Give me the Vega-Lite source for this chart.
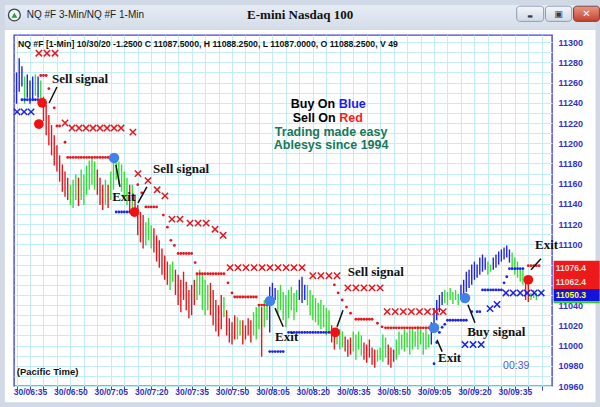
{
"$schema": "https://vega.github.io/schema/vega-lite/v6.json",
"width": 538, "height": 351,
"autosize": {"type": "none"},
"padding": {"left": 14, "top": 35, "right": 48, "bottom": 21},
"background": "#ffffff",
"data": {"values": [{}]},
"config": {
  "view": {"stroke": "#4646d6", "strokeWidth": 1.4, "fill": "#ffffff"},
  "axis": {"gridColor": "#c4eef7", "gridWidth": 1, "domain": false, "labelFont": "Liberation Sans", "labelFontWeight": "bold", "labelColor": "#3232c8", "tickColor": "#4646d6", "labelFlush": false, "labelOverlap": false}
},
"datasets": {
"bars": [
{"t":390,"c":"B","lo":11239,"hi":11270},{"t":391,"c":"B","lo":11251,"hi":11284},{"t":392,"c":"B","lo":11256,"hi":11276},{"t":393,"c":"G","lo":11239,"hi":11266},{"t":394,"c":"B","lo":11245,"hi":11268},{"t":395,"c":"B","lo":11239,"hi":11262},{"t":396,"c":"B","lo":11243,"hi":11266},{"t":397,"c":"G","lo":11247,"hi":11268},{"t":398,"c":"B","lo":11245,"hi":11266},{"t":399,"c":"G","lo":11243,"hi":11262},
{"t":400,"c":"R","lo":11222,"hi":11246},{"t":401,"c":"R","lo":11208,"hi":11238},{"t":402,"c":"R","lo":11198,"hi":11228},{"t":403,"c":"R","lo":11188,"hi":11218},{"t":404,"c":"R","lo":11178,"hi":11208},{"t":405,"c":"R","lo":11172,"hi":11198},{"t":406,"c":"R","lo":11162,"hi":11188},{"t":407,"c":"R","lo":11152,"hi":11179},{"t":408,"c":"R","lo":11147,"hi":11172},{"t":409,"c":"R","lo":11144,"hi":11166},
{"t":410,"c":"G","lo":11139,"hi":11159},{"t":411,"c":"G","lo":11136,"hi":11164},{"t":412,"c":"G","lo":11144,"hi":11169},{"t":413,"c":"R","lo":11138,"hi":11166},{"t":414,"c":"G","lo":11144,"hi":11174},{"t":415,"c":"G","lo":11139,"hi":11169},{"t":416,"c":"G","lo":11149,"hi":11178},{"t":417,"c":"G","lo":11154,"hi":11183},{"t":418,"c":"G","lo":11159,"hi":11186},{"t":419,"c":"G","lo":11154,"hi":11182},
{"t":420,"c":"R","lo":11149,"hi":11174},{"t":421,"c":"R","lo":11139,"hi":11166},{"t":422,"c":"R","lo":11134,"hi":11159},{"t":423,"c":"G","lo":11139,"hi":11164},{"t":424,"c":"R","lo":11136,"hi":11159},{"t":425,"c":"G","lo":11144,"hi":11172},{"t":426,"c":"G","lo":11154,"hi":11183},{"t":427,"c":"G","lo":11164,"hi":11188},{"t":428,"c":"G","lo":11159,"hi":11182},{"t":429,"c":"G","lo":11152,"hi":11179},
{"t":430,"c":"G","lo":11146,"hi":11172},{"t":431,"c":"G","lo":11139,"hi":11166},{"t":432,"c":"R","lo":11132,"hi":11159},{"t":433,"c":"G","lo":11136,"hi":11159},{"t":434,"c":"R","lo":11129,"hi":11149},{"t":435,"c":"R","lo":11109,"hi":11139},{"t":436,"c":"R","lo":11102,"hi":11132},{"t":437,"c":"R","lo":11096,"hi":11129},{"t":438,"c":"G","lo":11099,"hi":11122},{"t":439,"c":"G","lo":11104,"hi":11126},
{"t":440,"c":"G","lo":11096,"hi":11119},{"t":441,"c":"R","lo":11092,"hi":11116},{"t":442,"c":"R","lo":11083,"hi":11109},{"t":443,"c":"R","lo":11077,"hi":11104},{"t":444,"c":"R","lo":11070,"hi":11096},{"t":445,"c":"R","lo":11065,"hi":11089},{"t":446,"c":"R","lo":11060,"hi":11083},{"t":447,"c":"G","lo":11055,"hi":11080},{"t":448,"c":"G","lo":11063,"hi":11083},{"t":449,"c":"R","lo":11050,"hi":11075},
{"t":450,"c":"R","lo":11040,"hi":11070},{"t":451,"c":"R","lo":11033,"hi":11065},{"t":452,"c":"R","lo":11045,"hi":11073},{"t":453,"c":"R","lo":11035,"hi":11063},{"t":454,"c":"R","lo":11027,"hi":11055},{"t":455,"c":"R","lo":11030,"hi":11060},{"t":456,"c":"R","lo":11040,"hi":11065},{"t":457,"c":"G","lo":11045,"hi":11070},{"t":458,"c":"G","lo":11050,"hi":11075},{"t":459,"c":"G","lo":11035,"hi":11070},
{"t":460,"c":"G","lo":11030,"hi":11065},{"t":461,"c":"G","lo":11035,"hi":11060},{"t":462,"c":"R","lo":11030,"hi":11062},{"t":463,"c":"R","lo":11020,"hi":11055},{"t":464,"c":"R","lo":11014,"hi":11045},{"t":465,"c":"R","lo":11009,"hi":11040},{"t":466,"c":"R","lo":11016,"hi":11050},{"t":467,"c":"G","lo":11028,"hi":11048},{"t":468,"c":"R","lo":11010,"hi":11035},{"t":469,"c":"R","lo":11003,"hi":11027},
{"t":470,"c":"R","lo":11001,"hi":11023},{"t":471,"c":"R","lo":11006,"hi":11030},{"t":472,"c":"G","lo":11006,"hi":11028},{"t":473,"c":"G","lo":11010,"hi":11025},{"t":474,"c":"R","lo":11001,"hi":11025},{"t":475,"c":"R","lo":11006,"hi":11020},{"t":476,"c":"R","lo":11010,"hi":11027},{"t":477,"c":"R","lo":11003,"hi":11025},{"t":478,"c":"G","lo":11010,"hi":11033},{"t":479,"c":"G","lo":11006,"hi":11038},
{"t":480,"c":"G","lo":11016,"hi":11040},{"t":481,"c":"R","lo":10989,"hi":11038},{"t":482,"c":"G","lo":11018,"hi":11045},{"t":483,"c":"G","lo":11025,"hi":11048},{"t":484,"c":"B","lo":11013,"hi":11058},{"t":485,"c":"B","lo":11042,"hi":11062},{"t":486,"c":"B","lo":11045,"hi":11057},{"t":487,"c":"G","lo":11030,"hi":11055},{"t":488,"c":"G","lo":11035,"hi":11060},{"t":489,"c":"G","lo":11025,"hi":11053},
{"t":490,"c":"G","lo":11018,"hi":11050},{"t":491,"c":"G","lo":11027,"hi":11055},{"t":492,"c":"G","lo":11035,"hi":11058},{"t":493,"c":"G","lo":11025,"hi":11052},{"t":494,"c":"G","lo":11033,"hi":11055},{"t":495,"c":"B","lo":11045,"hi":11065},{"t":496,"c":"B","lo":11042,"hi":11068},{"t":497,"c":"B","lo":11045,"hi":11060},{"t":498,"c":"G","lo":11040,"hi":11060},{"t":499,"c":"G","lo":11030,"hi":11055},
{"t":500,"c":"G","lo":11025,"hi":11050},{"t":501,"c":"G","lo":11023,"hi":11047},{"t":502,"c":"G","lo":11020,"hi":11042},{"t":503,"c":"G","lo":11016,"hi":11045},{"t":504,"c":"G","lo":11018,"hi":11040},{"t":505,"c":"G","lo":11010,"hi":11037},{"t":506,"c":"G","lo":11013,"hi":11035},{"t":507,"c":"R","lo":11003,"hi":11020},{"t":508,"c":"R","lo":10996,"hi":11013},{"t":509,"c":"G","lo":11001,"hi":11018},
{"t":510,"c":"G","lo":10996,"hi":11016},{"t":511,"c":"G","lo":10998,"hi":11014},{"t":512,"c":"R","lo":10994,"hi":11009},{"t":513,"c":"R","lo":10989,"hi":11006},{"t":514,"c":"R","lo":10991,"hi":11008},{"t":515,"c":"G","lo":10994,"hi":11014},{"t":516,"c":"G","lo":10986,"hi":11011},{"t":517,"c":"G","lo":10996,"hi":11014},{"t":518,"c":"G","lo":10990,"hi":11010},{"t":519,"c":"R","lo":10986,"hi":11003},
{"t":520,"c":"R","lo":10983,"hi":11001},{"t":521,"c":"R","lo":10988,"hi":11006},{"t":522,"c":"R","lo":10981,"hi":10998},{"t":523,"c":"R","lo":10978,"hi":10996},{"t":524,"c":"G","lo":10984,"hi":10996},{"t":525,"c":"G","lo":10986,"hi":10998},{"t":526,"c":"G","lo":10984,"hi":11011},{"t":527,"c":"G","lo":10988,"hi":11008},{"t":528,"c":"R","lo":10981,"hi":11001},{"t":529,"c":"R","lo":10978,"hi":10998},
{"t":530,"c":"R","lo":10984,"hi":10996},{"t":531,"c":"G","lo":10986,"hi":11006},{"t":532,"c":"G","lo":10991,"hi":11014},{"t":533,"c":"G","lo":10996,"hi":11011},{"t":534,"c":"G","lo":10994,"hi":11016},{"t":535,"c":"G","lo":10998,"hi":11013},{"t":536,"c":"G","lo":10991,"hi":11016},{"t":537,"c":"G","lo":10996,"hi":11018},{"t":538,"c":"G","lo":10999,"hi":11014},{"t":539,"c":"G","lo":10996,"hi":11019},
{"t":540,"c":"G","lo":11001,"hi":11016},{"t":541,"c":"G","lo":10991,"hi":11013},{"t":542,"c":"G","lo":10996,"hi":11016},{"t":543,"c":"G","lo":10998,"hi":11011},{"t":544,"c":"B","lo":11001,"hi":11023},{"t":545,"c":"B","lo":11016,"hi":11037},{"t":546,"c":"B","lo":11025,"hi":11045},{"t":547,"c":"B","lo":11033,"hi":11050},{"t":548,"c":"B","lo":11040,"hi":11053},{"t":549,"c":"G","lo":11042,"hi":11055},
{"t":550,"c":"G","lo":11040,"hi":11053},{"t":551,"c":"G","lo":11045,"hi":11057},{"t":552,"c":"G","lo":11041,"hi":11053},{"t":553,"c":"G","lo":11045,"hi":11055},{"t":554,"c":"G","lo":11040,"hi":11051},{"t":555,"c":"B","lo":11045,"hi":11060},{"t":556,"c":"B","lo":11047,"hi":11065},{"t":557,"c":"B","lo":11053,"hi":11073},{"t":558,"c":"B","lo":11057,"hi":11075},{"t":559,"c":"B","lo":11060,"hi":11080},
{"t":560,"c":"B","lo":11065,"hi":11083},{"t":561,"c":"B","lo":11067,"hi":11080},{"t":562,"c":"B","lo":11070,"hi":11087},{"t":563,"c":"B","lo":11073,"hi":11090},{"t":564,"c":"B","lo":11075,"hi":11087},{"t":565,"c":"G","lo":11070,"hi":11083},{"t":566,"c":"G","lo":11073,"hi":11080},{"t":567,"c":"B","lo":11075,"hi":11087},{"t":568,"c":"B","lo":11077,"hi":11090},{"t":569,"c":"B","lo":11080,"hi":11093},
{"t":570,"c":"B","lo":11083,"hi":11095},{"t":571,"c":"B","lo":11085,"hi":11097},{"t":572,"c":"B","lo":11087,"hi":11099},{"t":573,"c":"B","lo":11082,"hi":11095},{"t":574,"c":"G","lo":11075,"hi":11092},{"t":575,"c":"G","lo":11070,"hi":11087},{"t":576,"c":"G","lo":11067,"hi":11083},{"t":577,"c":"G","lo":11063,"hi":11077},{"t":578,"c":"G","lo":11060,"hi":11075},{"t":579,"c":"R","lo":11045,"hi":11067},
{"t":580,"c":"R","lo":11043,"hi":11065},{"t":581,"c":"G","lo":11045,"hi":11052},{"t":582,"c":"G","lo":11047,"hi":11055},{"t":583,"c":"G","lo":11045,"hi":11052}
],
"dots": [
{"t":399,"p":11267,"c":"R"},{"t":400,"p":11267,"c":"R"},{"t":401,"p":11267,"c":"R"},{"t":402,"p":11254,"c":"R"},{"t":404,"p":11235,"c":"R"},{"t":405,"p":11217,"c":"R"},{"t":406,"p":11217,"c":"R"},{"t":408,"p":11201,"c":"R"},
{"t":409,"p":11186,"c":"R"},{"t":410,"p":11186,"c":"R"},{"t":411,"p":11186,"c":"R"},{"t":412,"p":11186,"c":"R"},{"t":413,"p":11186,"c":"R"},{"t":414,"p":11186,"c":"R"},{"t":415,"p":11186,"c":"R"},{"t":416,"p":11186,"c":"R"},{"t":417,"p":11186,"c":"R"},{"t":418,"p":11186,"c":"R"},{"t":419,"p":11186,"c":"R"},{"t":420,"p":11186,"c":"R"},{"t":421,"p":11186,"c":"R"},{"t":422,"p":11186,"c":"R"},{"t":423,"p":11186,"c":"R"},{"t":424,"p":11186,"c":"R"},{"t":425,"p":11186,"c":"R"},
{"t":435,"p":11159,"c":"R"},{"t":436.5,"p":11151,"c":"R"},{"t":438,"p":11137,"c":"R"},{"t":439,"p":11137,"c":"R"},{"t":440,"p":11137,"c":"R"},{"t":441,"p":11137,"c":"R"},{"t":442,"p":11137,"c":"R"},{"t":444.5,"p":11129,"c":"R"},{"t":446,"p":11117,"c":"R"},{"t":447.3,"p":11104,"c":"R"},{"t":448.6,"p":11099,"c":"R"},
{"t":450,"p":11091,"c":"R"},{"t":451,"p":11091,"c":"R"},{"t":452,"p":11091,"c":"R"},{"t":453,"p":11091,"c":"R"},{"t":454,"p":11091,"c":"R"},{"t":455,"p":11091,"c":"R"},{"t":456.3,"p":11082,"c":"R"},
{"t":457,"p":11071,"c":"R"},{"t":458,"p":11071,"c":"R"},{"t":459,"p":11071,"c":"R"},{"t":460,"p":11071,"c":"R"},{"t":461,"p":11071,"c":"R"},{"t":462,"p":11071,"c":"R"},{"t":463,"p":11071,"c":"R"},{"t":464,"p":11071,"c":"R"},{"t":465,"p":11071,"c":"R"},{"t":466,"p":11071,"c":"R"},{"t":467,"p":11071,"c":"R"},
{"t":468.5,"p":11062,"c":"R"},{"t":470,"p":11052,"c":"R"},{"t":471,"p":11048,"c":"R"},{"t":472,"p":11048,"c":"R"},{"t":473,"p":11048,"c":"R"},{"t":474,"p":11048,"c":"R"},{"t":475,"p":11048,"c":"R"},{"t":476,"p":11048,"c":"R"},{"t":477,"p":11048,"c":"R"},{"t":478,"p":11048,"c":"R"},{"t":479,"p":11048,"c":"R"},
{"t":480,"p":11040,"c":"R"},{"t":481,"p":11040,"c":"R"},{"t":482,"p":11040,"c":"R"},{"t":483,"p":11040,"c":"R"},
{"t":508,"p":11060,"c":"R"},{"t":509.4,"p":11052,"c":"R"},{"t":510.9,"p":11045,"c":"R"},{"t":512.5,"p":11038,"c":"R"},{"t":514,"p":11032,"c":"R"},
{"t":516,"p":11026,"c":"R"},{"t":517,"p":11026,"c":"R"},{"t":518,"p":11026,"c":"R"},{"t":519,"p":11026,"c":"R"},{"t":520,"p":11026,"c":"R"},{"t":521,"p":11026,"c":"R"},{"t":522,"p":11026,"c":"R"},{"t":524,"p":11022,"c":"R"},{"t":525.7,"p":11018.5,"c":"R"},
{"t":527,"p":11017.5,"c":"R"},{"t":528,"p":11017.5,"c":"R"},{"t":529,"p":11017.5,"c":"R"},{"t":530,"p":11017.5,"c":"R"},{"t":531,"p":11017.5,"c":"R"},{"t":532,"p":11017.5,"c":"R"},{"t":533,"p":11017.5,"c":"R"},{"t":534,"p":11017.5,"c":"R"},{"t":535,"p":11017.5,"c":"R"},{"t":536,"p":11017.5,"c":"R"},{"t":537,"p":11017.5,"c":"R"},{"t":538,"p":11017.5,"c":"R"},{"t":539,"p":11017.5,"c":"R"},{"t":540,"p":11017.5,"c":"R"},{"t":541,"p":11017.5,"c":"R"},{"t":542,"p":11017.5,"c":"R"},{"t":543,"p":11017.5,"c":"R"},{"t":544,"p":11017.5,"c":"R"},
{"t":580,"p":11079,"c":"R"},{"t":581,"p":11079,"c":"R"},{"t":582,"p":11079,"c":"R"},{"t":583,"p":11079,"c":"R"},{"t":584,"p":11079,"c":"R"},
{"t":392,"p":11243,"c":"B"},{"t":393,"p":11243,"c":"B"},{"t":394,"p":11243,"c":"B"},{"t":395,"p":11243,"c":"B"},{"t":396,"p":11243,"c":"B"},{"t":397,"p":11243,"c":"B"},{"t":398,"p":11243,"c":"B"},
{"t":427,"p":11132,"c":"B"},{"t":428,"p":11132,"c":"B"},{"t":429,"p":11132,"c":"B"},{"t":430,"p":11132,"c":"B"},{"t":431,"p":11132,"c":"B"},{"t":432,"p":11132,"c":"B"},{"t":433,"p":11132,"c":"B"},
{"t":484,"p":10994,"c":"B"},{"t":485,"p":10994,"c":"B"},{"t":486,"p":10994,"c":"B"},{"t":487,"p":10994,"c":"B"},{"t":488,"p":10994,"c":"B"},{"t":489,"p":10994,"c":"B"},
{"t":491,"p":11013,"c":"B"},{"t":492,"p":11013,"c":"B"},{"t":493,"p":11013,"c":"B"},{"t":494,"p":11013,"c":"B"},{"t":495,"p":11013,"c":"B"},{"t":496,"p":11013,"c":"B"},{"t":497,"p":11013,"c":"B"},{"t":498,"p":11013,"c":"B"},{"t":499,"p":11013,"c":"B"},{"t":500,"p":11013,"c":"B"},{"t":501,"p":11013,"c":"B"},{"t":502,"p":11013,"c":"B"},{"t":503,"p":11013,"c":"B"},{"t":504,"p":11013,"c":"B"},{"t":505,"p":11013,"c":"B"},{"t":506,"p":11013,"c":"B"},{"t":507,"p":11013,"c":"B"},
{"t":545,"p":10982,"c":"B"},{"t":546,"p":11003,"c":"B"},{"t":547,"p":11013,"c":"B"},{"t":548,"p":11018,"c":"B"},{"t":549,"p":11021,"c":"B"},
{"t":550,"p":11025,"c":"B"},{"t":551,"p":11025,"c":"B"},{"t":552,"p":11025,"c":"B"},{"t":553,"p":11025,"c":"B"},{"t":554,"p":11025,"c":"B"},{"t":555,"p":11025,"c":"B"},{"t":556,"p":11025,"c":"B"},{"t":557,"p":11025,"c":"B"},
{"t":559,"p":11033.5,"c":"B"},{"t":561,"p":11033.5,"c":"B"},{"t":562,"p":11033.5,"c":"B"},
{"t":563,"p":11055,"c":"B"},{"t":564,"p":11055,"c":"B"},{"t":565,"p":11055,"c":"B"},{"t":566,"p":11055,"c":"B"},{"t":567,"p":11055,"c":"B"},{"t":568,"p":11055,"c":"B"},{"t":569,"p":11055,"c":"B"},{"t":570,"p":11055,"c":"B"},
{"t":571,"p":11062,"c":"B"},{"t":572,"p":11068,"c":"B"},{"t":573,"p":11076,"c":"B"},{"t":574,"p":11076,"c":"B"},{"t":575,"p":11076,"c":"B"},{"t":576,"p":11076,"c":"B"},{"t":577,"p":11076,"c":"B"},{"t":578,"p":11076,"c":"B"}
],
"crosses": [
{"t":398.3,"p":11289,"c":"R"},{"t":401.3,"p":11289,"c":"R"},{"t":404.3,"p":11289,"c":"R"},
{"t":408,"p":11220,"c":"R"},{"t":410.6,"p":11215,"c":"R"},{"t":413.2,"p":11215,"c":"R"},{"t":415.8,"p":11215,"c":"R"},{"t":418.4,"p":11215,"c":"R"},{"t":421,"p":11215,"c":"R"},{"t":423.6,"p":11215,"c":"R"},{"t":426.2,"p":11215,"c":"R"},{"t":428.8,"p":11215,"c":"R"},{"t":433.2,"p":11211,"c":"R"},
{"t":435.1,"p":11170,"c":"R"},{"t":438.8,"p":11163,"c":"R"},{"t":442.2,"p":11154,"c":"R"},{"t":445.1,"p":11148,"c":"R"},
{"t":447.7,"p":11125,"c":"R"},{"t":450.7,"p":11125,"c":"R"},{"t":454.4,"p":11121,"c":"R"},{"t":457.4,"p":11121,"c":"R"},{"t":460.4,"p":11121,"c":"R"},{"t":463.7,"p":11115,"c":"R"},{"t":466.7,"p":11109,"c":"R"},
{"t":469.3,"p":11077,"c":"R"},{"t":472.2,"p":11077,"c":"R"},{"t":475.2,"p":11077,"c":"R"},{"t":478.2,"p":11077,"c":"R"},{"t":481.2,"p":11077,"c":"R"},{"t":484.1,"p":11077,"c":"R"},{"t":487.1,"p":11077,"c":"R"},{"t":490.1,"p":11077,"c":"R"},{"t":493,"p":11077,"c":"R"},{"t":496,"p":11077,"c":"R"},
{"t":500,"p":11069,"c":"R"},{"t":503,"p":11069,"c":"R"},{"t":506,"p":11069,"c":"R"},{"t":509,"p":11069,"c":"R"},
{"t":513,"p":11057,"c":"R"},{"t":516,"p":11057,"c":"R"},{"t":519,"p":11057,"c":"R"},{"t":522,"p":11057,"c":"R"},{"t":525,"p":11057,"c":"R"},
{"t":527.6,"p":11033.5,"c":"R"},{"t":530.6,"p":11033.5,"c":"R"},{"t":533.6,"p":11033.5,"c":"R"},{"t":536.6,"p":11033.5,"c":"R"},{"t":539.6,"p":11033.5,"c":"R"},{"t":542.6,"p":11033.5,"c":"R"},{"t":545.6,"p":11033.5,"c":"R"},{"t":548.4,"p":11033.5,"c":"R"},
{"t":390.2,"p":11231,"c":"B"},{"t":392.8,"p":11231,"c":"B"},{"t":395.4,"p":11231,"c":"B"},
{"t":556.5,"p":11001,"c":"B"},{"t":559.5,"p":11001,"c":"B"},{"t":562.5,"p":11001,"c":"B"},
{"t":565.8,"p":11036.5,"c":"B"},{"t":568.4,"p":11040.6,"c":"B"},
{"t":571.7,"p":11052,"c":"B"},{"t":574.4,"p":11052,"c":"B"},{"t":577,"p":11052,"c":"B"},{"t":579.6,"p":11052,"c":"B"},{"t":582.2,"p":11052,"c":"B"},{"t":584.8,"p":11052,"c":"B"}
],
"signals": [
{"t":399.5,"p":11240,"c":"R"},{"t":398.3,"p":11219,"c":"R"},{"t":426.2,"p":11185.5,"c":"B"},{"t":433.8,"p":11132,"c":"R"},{"t":484.1,"p":11044,"c":"B"},{"t":508.3,"p":11013,"c":"R"},{"t":545,"p":11017.5,"c":"B"},{"t":556.5,"p":11047,"c":"B"},{"t":580,"p":11065,"c":"R"}
],
"notes": [
{"t":403.2,"p":11263.5,"label":"Sell signal"},{"t":425.5,"p":11147,"label":"Exit"},{"t":440.7,"p":11175,"label":"Sell signal"},{"t":486,"p":11008.7,"label":"Exit"},{"t":513,"p":11073,"label":"Sell signal"},{"t":546.5,"p":10988,"label":"Exit"},{"t":557.3,"p":11013.5,"label":"Buy signal"},{"t":582.5,"p":11099.5,"label":"Exit"}
],
"arrows": [
{"t1":402.1,"p1":11239.8,"t2":405,"p2":11255.6},{"t1":426.9,"p1":11178.5,"t2":428.4,"p2":11156.8},{"t1":435.1,"p1":11141,"t2":438.4,"p2":11156.8},{"t1":486,"p1":11037,"t2":489,"p2":11018.5},{"t1":509,"p1":11018.5,"t2":511.2,"p2":11035},{"t1":546.1,"p1":11005.7,"t2":548,"p2":10994},{"t1":557.6,"p1":11040.3,"t2":560.2,"p2":11022.5},{"t1":581,"p1":11075,"t2":584.7,"p2":11085.7}
],
"tags": [
{"label":"11076.4","p":11076.4,"side":"sell"},{"label":"11062.4","p":11062.4,"side":"sell"},{"label":"11050.3","p":11050.3,"side":"buy"}
]
},
"resolve": {"axis": {"x": "independent", "y": "independent"}},
"layer": [
{"mark": {"type": "rect", "clip": false, "fill": {"gradient": "linear", "x1": 0, "y1": 0, "x2": 0, "y2": 1, "stops": [{"offset": 0, "color": "#eef2f8"}, {"offset": 1, "color": "#d3dce8"}]}},
 "encoding": {
  "x": {"datum": 383.5, "type": "quantitative",
        "axis": {"orient": "bottom", "title": null, "tickCount": 200, "values": [390,395,400,405,410,415,420,425,430,435,440,445,450,455,460,465,470,475,480,485,490,495,500,505,510,515,520,525,530,535,540,545,550,555,560,565,570,575,580,585], "grid": true, "ticks": true, "tickSize": 4, "tickWidth": 1, "labels": false}},
  "x2": {"datum": 607.5},
  "y": {"datum": 11346, "type": "quantitative",
        "axis": {"orient": "right", "title": null, "tickCount": 200, "values": [10960,10970,10980,10990,11000,11010,11020,11030,11040,11050,11060,11070,11080,11090,11100,11110,11120,11130,11140,11150,11160,11170,11180,11190,11200,11210,11220,11230,11240,11250,11260,11270,11280,11290,11300], "grid": true, "ticks": false, "labels": false}},
  "y2": {"datum": 11312}}},
{"layer": [
{"mark": {"type": "rect", "clip": false, "fill": null, "stroke": "#d0d9e5", "strokeWidth": 10},
 "encoding": {"x": {"datum": 383.8, "type": "quantitative"}, "x2": {"datum": 606.8}, "y": {"datum": 11341.6, "type": "quantitative"}, "y2": {"datum": 10939}}},
{"mark": {"type": "rect", "clip": false, "cornerRadius": 3, "stroke": "#8d9cb3", "strokeWidth": 1, "fill": {"gradient": "linear", "x1": 0, "y1": 0, "x2": 0, "y2": 1, "stops": [{"offset": 0, "color": "#f4f6fa"}, {"offset": 1, "color": "#d2dae6"}]}},
 "encoding": {"x": {"datum": 575.7, "type": "quantitative"}, "x2": {"datum": 585.7}, "y": {"datum": 11335.5, "type": "quantitative"}, "y2": {"datum": 11320.5}}},
{"mark": {"type": "rect", "clip": false, "cornerRadius": 3, "stroke": "#8d9cb3", "strokeWidth": 1, "fill": {"gradient": "linear", "x1": 0, "y1": 0, "x2": 0, "y2": 1, "stops": [{"offset": 0, "color": "#f4f6fa"}, {"offset": 1, "color": "#d2dae6"}]}},
 "encoding": {"x": {"datum": 586.4, "type": "quantitative"}, "x2": {"datum": 596.1}, "y": {"datum": 11335.5, "type": "quantitative"}, "y2": {"datum": 11320.5}}},
{"mark": {"type": "rect", "clip": false, "cornerRadius": 3, "stroke": "#7a3a30", "strokeWidth": 1, "fill": {"gradient": "linear", "x1": 0, "y1": 0, "x2": 0, "y2": 1, "stops": [{"offset": 0, "color": "#e69a86"}, {"offset": 1, "color": "#c4402c"}]}},
 "encoding": {"x": {"datum": 596.8, "type": "quantitative"}, "x2": {"datum": 606.4}, "y": {"datum": 11335.5, "type": "quantitative"}, "y2": {"datum": 11320.5}}},
{"mark": {"type": "text", "clip": false, "text": "▬", "fontSize": 6, "color": "#333b48", "font": "DejaVu Sans"},
 "encoding": {"x": {"datum": 580.7, "type": "quantitative"}, "y": {"datum": 11326, "type": "quantitative"}}},
{"mark": {"type": "text", "clip": false, "text": "▣", "fontSize": 9, "color": "#333b48", "font": "DejaVu Sans"},
 "encoding": {"x": {"datum": 591.25, "type": "quantitative"}, "y": {"datum": 11328, "type": "quantitative"}}},
{"mark": {"type": "text", "clip": false, "text": "✕", "fontSize": 10, "fontWeight": "bold", "color": "#ffffff", "font": "DejaVu Sans"},
 "encoding": {"x": {"datum": 601.6, "type": "quantitative"}, "y": {"datum": 11328, "type": "quantitative"}}},
{"mark": {"type": "point", "clip": false, "shape": "circle", "size": 140, "filled": true, "fill": "#eef2f2", "stroke": "#3c4650", "strokeWidth": 1.3, "opacity": 1},
 "encoding": {"x": {"datum": 389.2, "type": "quantitative"}, "y": {"datum": 11326.8, "type": "quantitative"}}},
{"mark": {"type": "point", "clip": false, "shape": "triangle-up", "size": 34, "filled": true, "fill": "#2f9a3c", "opacity": 1},
 "encoding": {"x": {"datum": 389.2, "type": "quantitative"}, "y": {"datum": 11326.5, "type": "quantitative"}}},
{"mark": {"type": "text", "clip": false, "text": "NQ #F 3-Min/NQ #F 1-Min", "align": "left", "baseline": "middle", "font": "Liberation Sans", "fontSize": 10, "color": "#1e1e1e"},
 "encoding": {"x": {"datum": 393.8, "type": "quantitative"}, "y": {"datum": 11326.8, "type": "quantitative"}}},
{"mark": {"type": "text", "clip": false, "text": "E-mini Nasdaq 100", "align": "center", "baseline": "middle", "font": "Liberation Serif", "fontWeight": "bold", "fontSize": 13, "color": "#111111"},
 "encoding": {"x": {"datum": 495.3, "type": "quantitative"}, "y": {"datum": 11326.8, "type": "quantitative"}}},
{"data": {"name": "bars"},
 "mark": {"type": "rule", "strokeWidth": 1.4},
 "encoding": {
  "x": {"field": "t", "type": "quantitative", "scale": {"domain": [389.06, 588.8], "nice": false, "zero": false},
        "axis": {"orient": "bottom", "title": null, "tickCount": 200, "values": [395,410,425,440,455,470,485,500,515,530,545,560,575],
                 "grid": false, "ticks": false, "labelPadding": 1, "labelFontSize": 8.5, "labelOverlap": false, "labelFlush": false,
                 "labelExpr": "'30/' + (floor(datum.value/60) < 10 ? '0' : '') + floor(datum.value/60) + ':' + ((datum.value % 60) < 10 ? '0' : '') + (datum.value % 60)"}},
  "y": {"field": "lo", "type": "quantitative", "scale": {"domain": [10960, 11307], "nice": false, "zero": false},
        "axis": {"orient": "right", "title": null, "tickCount": 200, "values": [10960,10980,11000,11020,11040,11100,11120,11140,11160,11180,11200,11220,11240,11260,11280,11300],
                 "grid": false, "ticks": false, "labelPadding": 6, "labelFontSize": 9, "format": "d", "labelOverlap": false, "labelFlush": false}},
  "y2": {"field": "hi"},
  "color": {"field": "c", "type": "nominal", "scale": {"domain": ["B", "R", "G"], "range": ["#1e24e6", "#e8161c", "#36dd36"]}, "legend": null}
 }},
{"data": {"name": "dots"},
 "mark": {"type": "point", "shape": "circle", "filled": true, "size": 8, "opacity": 1},
 "encoding": {"x": {"field": "t", "type": "quantitative"}, "y": {"field": "p", "type": "quantitative"}, "color": {"field": "c", "type": "nominal", "legend": null}}},
{"data": {"name": "crosses"},
 "mark": {"type": "point", "shape": "M-1,-1L1,1M-1,1L1,-1", "filled": false, "size": 40, "strokeWidth": 1.5, "opacity": 1},
 "encoding": {"x": {"field": "t", "type": "quantitative"}, "y": {"field": "p", "type": "quantitative"}, "color": {"field": "c", "type": "nominal", "legend": null}}},
{"data": {"name": "signals"},
 "transform": [{"filter": "datum.c == 'R'"}],
 "mark": {"type": "point", "shape": "circle", "filled": true, "size": 95, "opacity": 1, "color": "#ee1212"},
 "encoding": {"x": {"field": "t", "type": "quantitative"}, "y": {"field": "p", "type": "quantitative"}}},
{"data": {"name": "signals"},
 "transform": [{"filter": "datum.c == 'B'"}],
 "mark": {"type": "point", "shape": "circle", "filled": true, "size": 110, "opacity": 1, "color": "#3f82ea"},
 "encoding": {"x": {"field": "t", "type": "quantitative"}, "y": {"field": "p", "type": "quantitative"}}},
{"data": {"name": "arrows"},
 "mark": {"type": "rule", "color": "#111111", "strokeWidth": 1.5},
 "encoding": {"x": {"field": "t1", "type": "quantitative"}, "x2": {"field": "t2"}, "y": {"field": "p1", "type": "quantitative"}, "y2": {"field": "p2"}}},
{"data": {"name": "notes"},
 "mark": {"type": "text", "align": "left", "baseline": "middle", "font": "Liberation Serif", "fontWeight": "bold", "fontSize": 13, "color": "#111111"},
 "encoding": {"x": {"field": "t", "type": "quantitative"}, "y": {"field": "p", "type": "quantitative"}, "text": {"field": "label"}}},
{"mark": {"type": "text", "clip": false, "text": "NQ #F [1-Min] 10/30/20  -1.2500 C 11087.5000, H 11088.2500, L 11087.0000, O 11088.2500, V 49", "align": "left", "baseline": "middle", "font": "Liberation Sans", "fontWeight": "bold", "fontSize": 8.7, "color": "#111111"},
 "encoding": {"x": {"datum": 390.5, "type": "quantitative"}, "y": {"datum": 11298.1, "type": "quantitative"}}},
{"mark": {"type": "text", "text": "(Pacific Time)", "align": "left", "baseline": "middle", "font": "Liberation Sans", "fontWeight": "bold", "fontSize": 9.5, "color": "#111111"},
 "encoding": {"x": {"datum": 390.1, "type": "quantitative"}, "y": {"datum": 10973.8, "type": "quantitative"}}},
{"mark": {"type": "text", "text": "00:39", "align": "center", "baseline": "middle", "font": "Liberation Sans", "fontSize": 10.5, "color": "#5656d4"},
 "encoding": {"x": {"datum": 575.5, "type": "quantitative"}, "y": {"datum": 10979.8, "type": "quantitative"}}},
{"mark": {"type": "text", "text": "Buy On", "align": "right", "baseline": "middle", "font": "Liberation Sans", "fontWeight": "bold", "fontSize": 12.5, "color": "#000000"},
 "encoding": {"x": {"datum": 508.3, "type": "quantitative"}, "y": {"datum": 11238.8, "type": "quantitative"}}},
{"mark": {"type": "text", "text": "Blue", "align": "left", "baseline": "middle", "dx": 3.5, "font": "Liberation Sans", "fontWeight": "bold", "fontSize": 12.5, "color": "#1a1aff"},
 "encoding": {"x": {"datum": 508.3, "type": "quantitative"}, "y": {"datum": 11238.8, "type": "quantitative"}}},
{"mark": {"type": "text", "text": "Sell On", "align": "right", "baseline": "middle", "font": "Liberation Sans", "fontWeight": "bold", "fontSize": 12.5, "color": "#000000"},
 "encoding": {"x": {"datum": 508.5, "type": "quantitative"}, "y": {"datum": 11225, "type": "quantitative"}}},
{"mark": {"type": "text", "text": "Red", "align": "left", "baseline": "middle", "dx": 3.5, "font": "Liberation Sans", "fontWeight": "bold", "fontSize": 12.5, "color": "#ff1a1a"},
 "encoding": {"x": {"datum": 508.5, "type": "quantitative"}, "y": {"datum": 11225, "type": "quantitative"}}},
{"mark": {"type": "text", "text": "Trading made easy", "align": "center", "baseline": "middle", "font": "Liberation Sans", "fontWeight": "bold", "fontSize": 12.5, "color": "#17785a"},
 "encoding": {"x": {"datum": 506.8, "type": "quantitative"}, "y": {"datum": 11211, "type": "quantitative"}}},
{"mark": {"type": "text", "text": "Ablesys since 1994", "align": "center", "baseline": "middle", "font": "Liberation Sans", "fontWeight": "bold", "fontSize": 12.5, "color": "#17785a"},
 "encoding": {"x": {"datum": 506.8, "type": "quantitative"}, "y": {"datum": 11198, "type": "quantitative"}}},
{"data": {"name": "tags"},
 "transform": [{"filter": "datum.side == 'sell'"}, {"calculate": "datum.p + 7.3", "as": "top"}, {"calculate": "datum.p - 7.3", "as": "bot"}],
 "mark": {"type": "rect", "clip": false, "color": "#ee1a1a"},
 "encoding": {"x": {"datum": 589.4, "type": "quantitative"}, "x2": {"datum": 606.5}, "y": {"field": "top", "type": "quantitative"}, "y2": {"field": "bot"}}},
{"data": {"name": "tags"},
 "transform": [{"filter": "datum.side == 'buy'"}, {"calculate": "datum.p + 5.6", "as": "top"}, {"calculate": "datum.p - 6.4", "as": "bot"}],
 "mark": {"type": "rect", "clip": false, "color": "#1414d8"},
 "encoding": {"x": {"datum": 589.4, "type": "quantitative"}, "x2": {"datum": 606.5}, "y": {"field": "top", "type": "quantitative"}, "y2": {"field": "bot"}}},
{"mark": {"type": "rule", "clip": false, "color": "#2ecc2e", "strokeWidth": 2},
 "encoding": {"x": {"datum": 589.4, "type": "quantitative"}, "x2": {"datum": 606.5}, "y": {"datum": 11042.8, "type": "quantitative"}}},
{"data": {"name": "tags"},
 "transform": [{"filter": "datum.side == 'sell'"}],
 "mark": {"type": "text", "clip": false, "align": "left", "baseline": "middle", "font": "Liberation Sans", "fontWeight": "bold", "fontSize": 8.5, "color": "#f3dede"},
 "encoding": {"x": {"datum": 590.2, "type": "quantitative"}, "y": {"field": "p", "type": "quantitative"}, "text": {"field": "label"}}},
{"data": {"name": "tags"},
 "transform": [{"filter": "datum.side == 'buy'"}],
 "mark": {"type": "text", "clip": false, "align": "left", "baseline": "middle", "font": "Liberation Sans", "fontWeight": "bold", "fontSize": 8.5, "color": "#ffff3c"},
 "encoding": {"x": {"datum": 590.2, "type": "quantitative"}, "y": {"field": "p", "type": "quantitative"}, "text": {"field": "label"}}}
]}
]
}
